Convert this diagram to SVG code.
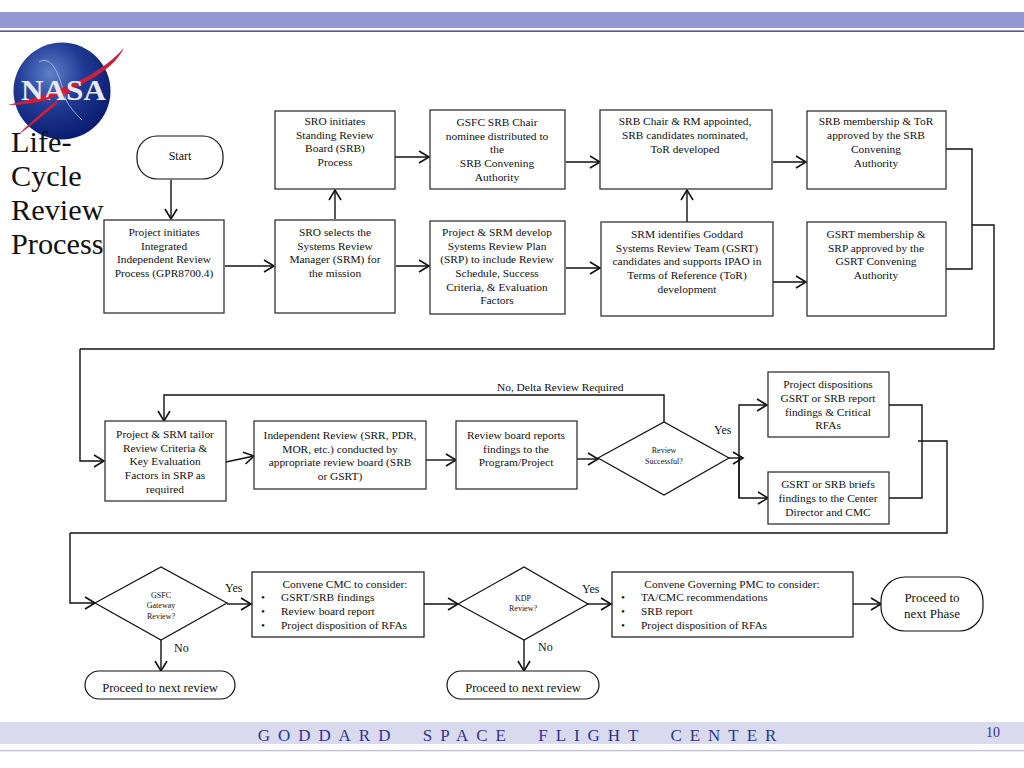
<svg xmlns="http://www.w3.org/2000/svg" width="1024" height="768" viewBox="0 0 1024 768">
<defs>
<radialGradient id="globe" cx="38%" cy="32%" r="70%"><stop offset="0" stop-color="#5f7fc8"/><stop offset="0.5" stop-color="#1f3a94"/><stop offset="1" stop-color="#0a1c6e"/></radialGradient>
<marker id="arr" markerUnits="userSpaceOnUse" markerWidth="14" markerHeight="16" refX="11" refY="7" orient="auto" viewBox="0 0 14 14"><path d="M1 1L11 7L1 13" fill="none" stroke="#111" stroke-width="1.6"/></marker>
</defs>
<style>
.b{fill:#fff;stroke:#333;stroke-width:1.3}
.r{fill:#fff;stroke:#111;stroke-width:1.2}
.c{fill:none;stroke:#111;stroke-width:1.4}
.a{marker-end:url(#arr)}
text{font-family:"Liberation Serif","Times New Roman",serif;fill:#111}
.t{font-size:11.400px;text-anchor:middle}
.s{font-size:8px;text-anchor:middle}
.l{font-size:11.400px}
.h{font-size:30.300px}
</style>
<rect x="0" y="12" width="1024" height="16" fill="#9499d2"/>
<rect x="0" y="30.500" width="1024" height="1.300" fill="#2b3384"/>
<rect x="0" y="722" width="1024" height="22" fill="#d9daee"/>
<rect x="0" y="750" width="1024" height="1.300" fill="#c0c0dc"/>
<text x="521" y="741" text-anchor="middle" style="font-size:17px;letter-spacing:7.950px;fill:#2f338c" xml:space="preserve">GODDARD  SPACE  FLIGHT  CENTER</text>
<text x="993" y="737" text-anchor="middle" style="font-size:14px;fill:#2f338c">10</text>

<g id="logo">
<circle cx="62" cy="91" r="48.500" fill="url(#globe)"/>
<path d="M39 62C53 54 60 78 66 100C70 108 76 114 82 120" fill="none" stroke="#b8c4e4" stroke-width="0.8"/>
<path d="M8 105C50 94 95 80 124 48C114 68 92 79 76 87C56 102 36 120 18 135C34 119 50 105 66 93C44 100 24 104 8 105Z" fill="#c8203c"/>
<text x="63.500" y="100" text-anchor="middle" textLength="85" lengthAdjust="spacingAndGlyphs" style="font-family:'Liberation Serif',serif;font-size:29px;font-weight:bold;fill:#e8e9f0">NASA</text>
<path d="M8 105C24 103 36 100 48 97L50 99C36 103 22 105 8 105Z M18 135C30 123 44 111 56 102L58 103C46 113 32 125 18 135Z" fill="#c8203c"/>
</g>
<g id="title">
<text class="h" x="11" y="152">Life-</text>
<text class="h" x="11" y="186">Cycle</text>
<text class="h" x="11" y="220">Review</text>
<text class="h" x="11" y="254">Process</text>
</g>

<g id="connectors">
<path class="c a" d="M171 180V219"/>
<path class="c a" d="M225 266H274"/>
<path class="c a" d="M335 219V190"/>
<path class="c a" d="M395 157H429"/>
<path class="c a" d="M396 266H429"/>
<path class="c a" d="M566 162H600"/>
<path class="c a" d="M566 268H600"/>
<path class="c a" d="M687 222V190"/>
<path class="c a" d="M773 162H806"/>
<path class="c a" d="M773 282H806"/>
<path class="c" d="M946 149H972V269H946"/>
<path class="c" d="M972 225H994V349H80"/>
<path class="c a" d="M80 349V461H104"/>
<path class="c a" d="M226 462L254 456"/>
<path class="c a" d="M426 460H456"/>
<path class="c a" d="M577 459H598"/>
<path class="c a" d="M664 422V395H164V421"/>
<path class="c a" d="M729 458H743"/>
<path class="c a" d="M739 498V405H767"/>
<path class="c a" d="M739 458V498H768"/>
<path class="c" d="M889 405H922V498H889"/>
<path class="c" d="M918 441H947V533H70"/>
<path class="c a" d="M70 533V603H95"/>
<path class="c a" d="M227 604H251"/>
<path class="c a" d="M161 640V671"/>
<path class="c a" d="M424 604H458"/>
<path class="c a" d="M587 604H611"/>
<path class="c a" d="M524 640V671"/>
<path class="c a" d="M853 604H881"/>
</g>

<g id="start"><rect class="r" x="137" y="136" width="86" height="43" rx="20"/><text class="t" x="180" y="160" style="font-size:12px">Start</text></g>
<g id="n1"><rect class="b" x="104" y="220" width="120" height="93"/><text class="t" x="164" y="236">Project initiates</text><text class="t" x="164" y="250">Integrated</text><text class="t" x="164" y="263">Independent Review</text><text class="t" x="164" y="277">Process (GPR8700.4)</text></g>
<g id="n2"><rect class="b" x="275" y="111" width="120" height="78"/><text class="t" x="335" y="125">SRO initiates</text><text class="t" x="335" y="139">Standing Review</text><text class="t" x="335" y="152">Board (SRB)</text><text class="t" x="335" y="166">Process</text></g>
<g id="n3"><rect class="b" x="275" y="220" width="120" height="93"/><text class="t" x="335" y="236">SRO selects the</text><text class="t" x="335" y="250">Systems Review</text><text class="t" x="335" y="263">Manager (SRM) for</text><text class="t" x="335" y="277">the mission</text></g>
<g id="n4"><rect class="b" x="430" y="110" width="135" height="79"/><text class="t" x="497" y="126">GSFC SRB Chair</text><text class="t" x="497" y="140">nominee distributed to</text><text class="t" x="497" y="153">the</text><text class="t" x="497" y="167">SRB Convening</text><text class="t" x="497" y="181">Authority</text></g>
<g id="n5"><rect class="b" x="430" y="221" width="135" height="93"/><text class="t" x="497" y="236">Project &amp; SRM develop</text><text class="t" x="497" y="250">Systems Review Plan</text><text class="t" x="497" y="263">(SRP) to include Review</text><text class="t" x="497" y="277">Schedule, Success</text><text class="t" x="497" y="291">Criteria, &amp; Evaluation</text><text class="t" x="497" y="304">Factors</text></g>
<g id="n6"><rect class="b" x="600" y="110" width="172" height="79"/><text class="t" x="685" y="125">SRB Chair &amp; RM appointed,</text><text class="t" x="685" y="139">SRB candidates nominated,</text><text class="t" x="685" y="153">ToR developed</text></g>
<g id="n7"><rect class="b" x="601" y="222" width="172" height="94"/><text class="t" x="687" y="238">SRM identifies Goddard</text><text class="t" x="687" y="252">Systems Review Team (GSRT)</text><text class="t" x="687" y="265">candidates and supports IPAO in</text><text class="t" x="687" y="279">Terms of Reference (ToR)</text><text class="t" x="687" y="293">development</text></g>
<g id="n8"><rect class="b" x="807" y="111" width="139" height="78"/><text class="t" x="876" y="125">SRB membership &amp; ToR</text><text class="t" x="876" y="139">approved by the SRB</text><text class="t" x="876" y="153">Convening</text><text class="t" x="876" y="167">Authority</text></g>
<g id="n9"><rect class="b" x="807" y="222" width="139" height="94"/><text class="t" x="876" y="238">GSRT membership &amp;</text><text class="t" x="876" y="252">SRP approved by the</text><text class="t" x="876" y="265">GSRT Convening</text><text class="t" x="876" y="279">Authority</text></g>
<g id="n10"><rect class="b" x="105" y="421" width="121" height="80"/><text class="t" x="165" y="438">Project &amp; SRM tailor</text><text class="t" x="165" y="452">Review Criteria &amp;</text><text class="t" x="165" y="465">Key Evaluation</text><text class="t" x="165" y="479">Factors in SRP as</text><text class="t" x="165" y="493">required</text></g>
<g id="n11"><rect class="b" x="254" y="421" width="172" height="68"/><text class="t" x="340" y="439">Independent Review (SRR, PDR,</text><text class="t" x="340" y="453">MOR, etc.) conducted by</text><text class="t" x="340" y="466">appropriate review board (SRB</text><text class="t" x="340" y="480">or GSRT)</text></g>
<g id="n12"><rect class="b" x="456" y="421" width="121" height="68"/><text class="t" x="516" y="439">Review board reports</text><text class="t" x="516" y="453">findings to the</text><text class="t" x="516" y="466">Program/Project</text></g>
<g id="d1"><path class="r" d="M598 458L664 422L729 458L664 495Z"/><text class="s" x="664" y="453">Review</text><text class="s" x="664" y="464">Successful?</text></g>
<g id="n13"><rect class="b" x="768" y="372" width="121" height="65"/><text class="t" x="828" y="388">Project dispositions</text><text class="t" x="828" y="402">GSRT or SRB report</text><text class="t" x="828" y="416">findings &amp; Critical</text><text class="t" x="828" y="429">RFAs</text></g>
<g id="n14"><rect class="b" x="768" y="472" width="121" height="52"/><text class="t" x="828" y="488">GSRT or SRB briefs</text><text class="t" x="828" y="502">findings to the Center</text><text class="t" x="828" y="516">Director and CMC</text></g>
<g id="d2"><path class="r" d="M95 603L161 567L227 603L161 640Z"/><text class="s" x="161" y="598">GSFC</text><text class="s" x="161" y="608">Gateway</text><text class="s" x="161" y="619">Review?</text></g>
<g id="n15"><rect class="r" x="252" y="572" width="172" height="65"/><text class="t" x="345" y="588">Convene CMC to consider:</text><text class="t" x="263" y="601">•</text><text class="l" x="281" y="601">GSRT/SRB findings</text><text class="t" x="263" y="615">•</text><text class="l" x="281" y="615">Review board report</text><text class="t" x="263" y="629">•</text><text class="l" x="281" y="629">Project disposition of RFAs</text></g>
<g id="d3"><path class="r" d="M458 604L524 567L588 604L524 640Z"/><text class="s" x="523" y="601">KDP</text><text class="s" x="523" y="611">Review?</text></g>
<g id="n16"><rect class="r" x="612" y="572" width="241" height="65"/><text class="t" x="732" y="588">Convene Governing PMC to consider:</text><text class="t" x="623" y="601">•</text><text class="l" x="641" y="601">TA/CMC recommendations</text><text class="t" x="623" y="615">•</text><text class="l" x="641" y="615">SRB report</text><text class="t" x="623" y="629">•</text><text class="l" x="641" y="629">Project disposition of RFAs</text></g>
<g id="end1"><rect class="r" x="881" y="577" width="102" height="54" rx="24"/><text class="t" x="932" y="602" style="font-size:13px">Proceed to</text><text class="t" x="932" y="618" style="font-size:13px">next Phase</text></g>
<g id="p1"><rect class="r" x="85" y="671" width="150" height="28" rx="14"/><text class="t" x="160" y="692" style="font-size:12.600px">Proceed to next review</text></g>
<g id="p2"><rect class="r" x="447" y="671" width="152" height="28" rx="14"/><text class="t" x="523" y="692" style="font-size:12.600px">Proceed to next review</text></g>
<g id="labels">
<text class="l" x="497" y="391">No, Delta Review Required</text>
<text class="l" x="714" y="434" style="font-size:12px">Yes</text>
<text class="l" x="225" y="592" style="font-size:12px">Yes</text>
<text class="l" x="174" y="652" style="font-size:12px">No</text>
<text class="l" x="582" y="593" style="font-size:12px">Yes</text>
<text class="l" x="538" y="651" style="font-size:12px">No</text>
</g>
</svg>
